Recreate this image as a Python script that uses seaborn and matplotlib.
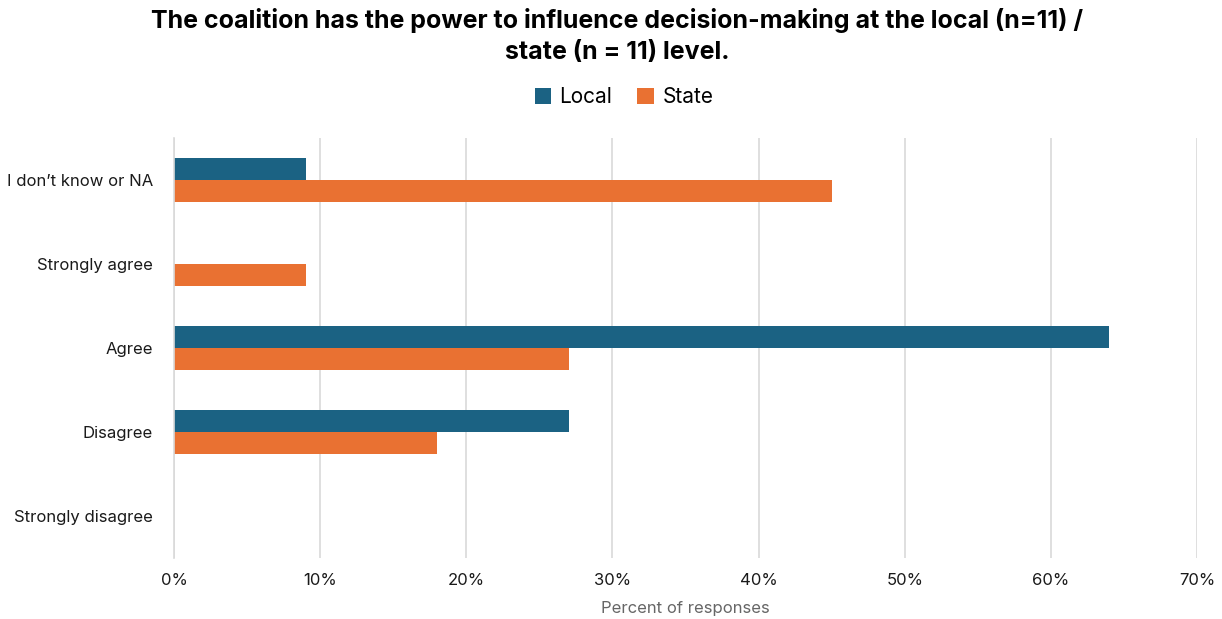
import matplotlib
matplotlib.use('Agg')
import matplotlib.pyplot as plt
import pandas as pd
import seaborn as sns
from matplotlib.ticker import PercentFormatter

categories = ['I don\u2019t know or NA', 'Strongly agree', 'Agree', 'Disagree', 'Strongly disagree']
local_pct = [9, 0, 64, 27, 0]
state_pct = [45, 9, 27, 18, 0]
series = ['Local', 'State']
palette = {'Local': '#1B6283', 'State': '#E97132'}

df = pd.DataFrame({
    'category': categories * 2,
    'series': ['Local'] * len(categories) + ['State'] * len(categories),
    'pct': local_pct + state_pct,
})

sns.set_theme(style='white')
plt.rcParams['font.family'] = ['Inter', 'DejaVu Sans']

fig = plt.figure(figsize=(12.22, 6.19), dpi=100)
ax = fig.add_axes([174 / 1222, 1 - 558 / 619, (1197 - 174) / 1222, (558 - 138) / 619])

sns.barplot(data=df, x='pct', y='category', hue='series', hue_order=series,
            order=categories, palette=palette, orient='h', width=0.52,
            saturation=1, linewidth=0, ax=ax, legend=True)

ax.set_xlim(0, 70)
ax.set_xticks(range(0, 71, 10))
ax.xaxis.set_major_formatter(PercentFormatter(decimals=0))
ax.grid(axis='x', color='#D9D9D9', linewidth=1.2)
ax.set_axisbelow(True)
for s in ['top', 'right', 'bottom']:
    ax.spines[s].set_visible(False)
ax.spines['left'].set_color('#D9D9D9')
ax.spines['left'].set_linewidth(1.2)
ax.tick_params(axis='both', length=0, labelsize=12, labelcolor='#1a1a1a')
ax.tick_params(axis='x', pad=11)
ax.tick_params(axis='y', pad=15)
ax.set_ylabel('')
ax.set_xlabel('Percent of responses', fontsize=12, color='#666666', labelpad=9)

ax.legend(loc='center', ncol=2, frameon=False, fontsize=15,
          handlelength=0.8, handleheight=0.8, handletextpad=0.4, columnspacing=1.2)
leg = ax.get_legend()
leg.set_bbox_to_anchor((624 / 1222, 1 - 97 / 619), transform=fig.transFigure)
for t in leg.get_texts():
    t.set_color('black')

fig.suptitle('The coalition has the power to influence decision-making at the local (n=11) /\n'
             'state (n = 11) level.', x=617 / 1222, y=1 - 8 / 619, fontsize=18,
             fontweight='bold', va='top', linespacing=1.45, color='black')

fig.savefig('out.png', dpi=100)
